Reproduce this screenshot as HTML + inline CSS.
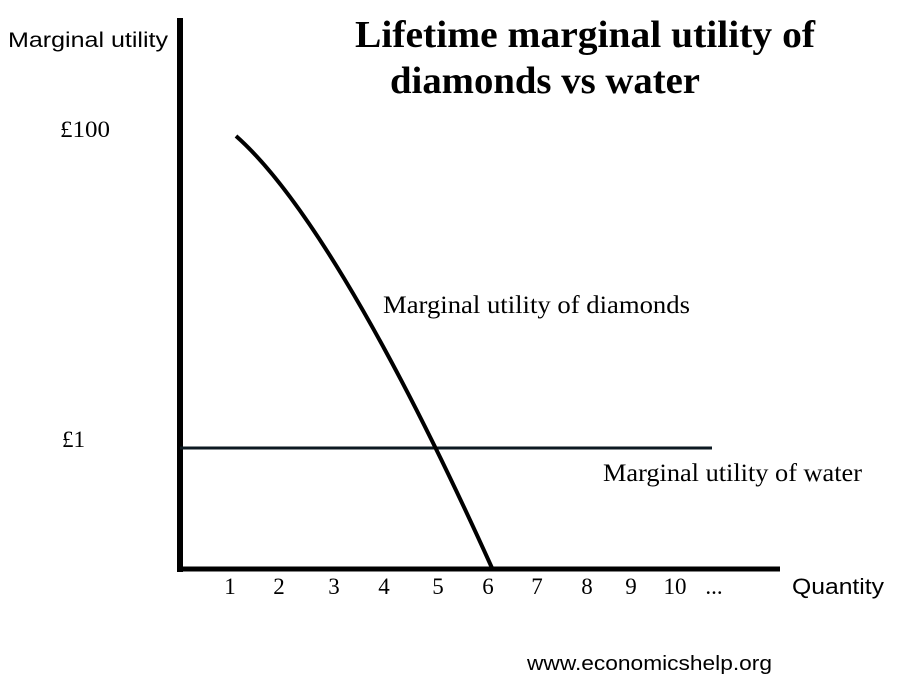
<!DOCTYPE html>
<html><head><meta charset="utf-8"><style>
body{margin:0;background:#fff}
svg{display:block}
.s{font-family:"Liberation Sans",sans-serif;fill:#000}
.r{font-family:"Liberation Serif",serif;fill:#000}
</style></head><body>
<svg width="900" height="684" viewBox="0 0 900 684">
<rect width="900" height="684" fill="#fff"/>
<line x1="180" y1="18" x2="180" y2="572" stroke="#000" stroke-width="6"/>
<line x1="177" y1="569" x2="780" y2="569" stroke="#000" stroke-width="5"/>
<line x1="180" y1="448" x2="712" y2="448" stroke="#0d1a22" stroke-width="3"/>
<path d="M236,136 C295,188 380,320 492,568" fill="none" stroke="#000" stroke-width="4"/>
<text class="s" x="8" y="47" font-size="21" textLength="160" lengthAdjust="spacingAndGlyphs">Marginal utility</text>
<text class="r" x="355" y="47" font-size="38" font-weight="bold" textLength="460" lengthAdjust="spacingAndGlyphs">Lifetime marginal utility of</text>
<text class="r" x="390" y="93" font-size="38" font-weight="bold" textLength="310" lengthAdjust="spacingAndGlyphs">diamonds vs water</text>
<text class="r" x="60" y="137" font-size="23" textLength="50" lengthAdjust="spacingAndGlyphs">£100</text>
<text class="r" x="62" y="447" font-size="23">£1</text>
<text class="r" x="383" y="313" font-size="25" textLength="307" lengthAdjust="spacingAndGlyphs">Marginal utility of diamonds</text>
<text class="r" x="603" y="481" font-size="25" textLength="259" lengthAdjust="spacingAndGlyphs">Marginal utility of water</text>
<g class="r" font-size="23" text-anchor="middle">
<text x="230" y="594">1</text><text x="279" y="594">2</text><text x="334" y="594">3</text>
<text x="384" y="594">4</text><text x="438" y="594">5</text><text x="488" y="594">6</text>
<text x="537" y="594">7</text><text x="587" y="594">8</text><text x="631" y="594">9</text>
<text x="675" y="594">10</text><text x="714" y="594">...</text>
</g>
<text class="s" x="792" y="594" font-size="22" textLength="92" lengthAdjust="spacingAndGlyphs">Quantity</text>
<text class="s" x="527" y="670" font-size="20" textLength="245" lengthAdjust="spacingAndGlyphs">www.economicshelp.org</text>
</svg>
</body></html>
